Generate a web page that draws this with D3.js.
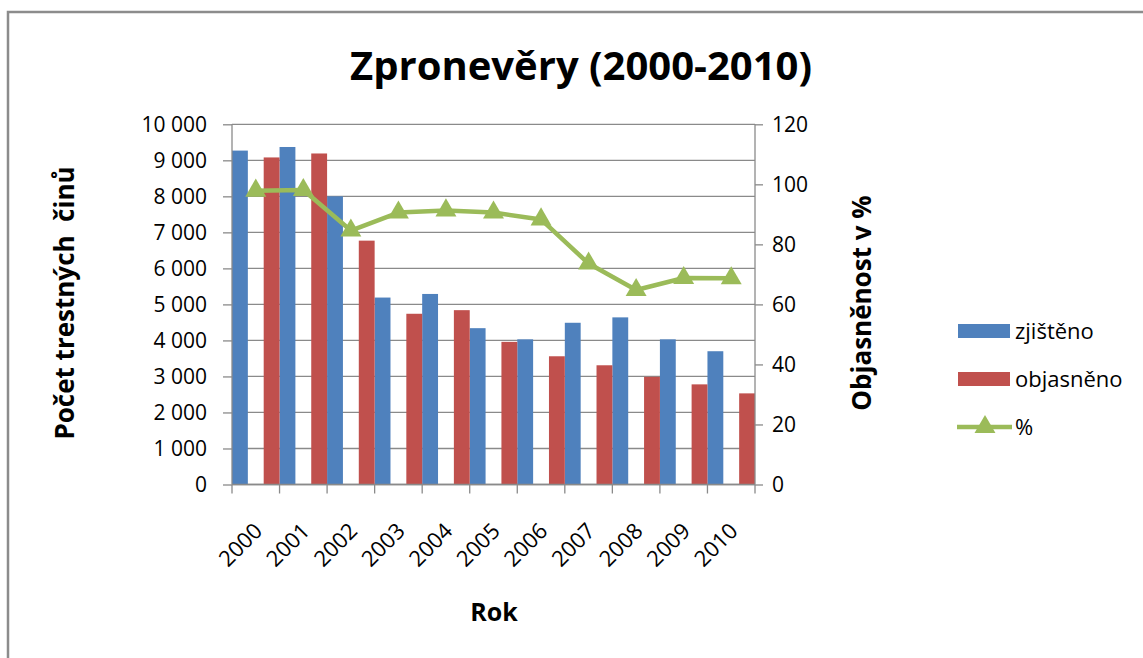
<!DOCTYPE html>
<html><head><meta charset="utf-8">
<script src="https://cdn.jsdelivr.net/npm/d3@7"></script>
<style>body{margin:0;background:#fff}svg{display:block}text{font-family:"Open Sans",sans-serif}</style>
</head><body>
<svg id="c" width="1143" height="658"></svg>
<script>
const years = ["2000","2001","2002","2003","2004","2005","2006","2007","2008","2009","2010"];
const zjisteno = [9270,9370,8000,5190,5290,4340,4030,4490,4640,4030,3700];
const objasneno = [9080,9190,6770,4740,4840,3960,3560,3310,2990,2780,2530];
const procenta = [97.9,98.1,84.6,90.6,91.3,90.6,88.3,73.6,64.8,68.8,68.7];
const leftTicks = [0,1000,2000,3000,4000,5000,6000,7000,8000,9000,10000];
const rightTicks = [0,20,40,60,80,100,120];
const seriesNames = ["zjištěno","objasněno","%"];
const colors = {blue:"#4F81BD", red:"#C0504D", green:"#9BBB59"};

const svg = d3.select("#c");
const L=232, R=755, T=124.3, B=484.5;
// frame
svg.append("path").attr("d","M8,1143 V12 H1143").attr("fill","none").attr("stroke","#8c8c8c").attr("stroke-width",2.5);

const x = d3.scaleBand().domain(years).range([L,R]).padding(0);
const slot = d3.scaleBand().domain(["z","gap","o"]).range([0,x.bandwidth()]).padding(0);
const yL = d3.scaleLinear().domain([0,10000]).range([B,T]);
const yR = d3.scaleLinear().domain([0,120]).range([B,T]);
const fmt = v => d3.format(",")(v).replace(/,/g," ");

// gridlines
svg.append("g").selectAll("line").data(leftTicks).join("line")
  .attr("x1",L).attr("x2",R).attr("y1",d=>yL(d)).attr("y2",d=>yL(d))
  .attr("stroke","#8a8a8a").attr("stroke-width",1.3);

// bars
svg.append("g").selectAll("rect").data(years).join("rect")
  .attr("x",d=>x(d)+slot("z")).attr("width",slot.bandwidth())
  .attr("y",(d,i)=>yL(zjisteno[i])).attr("height",(d,i)=>B-yL(zjisteno[i]))
  .attr("fill",colors.blue);
svg.append("g").selectAll("rect").data(years).join("rect")
  .attr("x",d=>x(d)+slot("o")).attr("width",slot.bandwidth())
  .attr("y",(d,i)=>yL(objasneno[i])).attr("height",(d,i)=>B-yL(objasneno[i]))
  .attr("fill",colors.red);

// axes
const axL = svg.append("g").attr("transform",`translate(${L},0)`)
  .call(d3.axisLeft(yL).tickValues(leftTicks).tickFormat(fmt).tickSizeOuter(0).tickSize(9).tickPadding(16));
const axR = svg.append("g").attr("transform",`translate(${R},0)`)
  .call(d3.axisRight(yR).tickValues(rightTicks).tickSizeOuter(0).tickSize(8).tickPadding(9));
const xTicks = d3.range(years.length+1).map(i=>L+i*x.step());
svg.append("g").selectAll("line").data(xTicks).join("line")
  .attr("x1",d=>d).attr("x2",d=>d).attr("y1",B).attr("y2",B+9).attr("stroke","#8a8a8a").attr("stroke-width",1.3);
svg.append("line").attr("x1",L).attr("x2",R).attr("y1",B).attr("y2",B).attr("stroke","#8a8a8a").attr("stroke-width",1.3);
[axL,axR].forEach(a=>{
  a.selectAll("path,line").attr("stroke","#8a8a8a").attr("stroke-width",1.3);
  a.selectAll("text").attr("font-size",21).attr("fill","#000");
});
axL.select(".domain").attr("d",`M0,${T}V${B}`);
axR.select(".domain").attr("d",`M0,${T}V${B}`);

// x labels
svg.append("g").selectAll("text").data(years).join("text")
  .attr("transform",d=>`translate(${x(d)+x.bandwidth()/2-3},${B+37}) rotate(-45)`)
  .attr("text-anchor","end").attr("dy","0.7em").attr("font-size",22).text(d=>d);

// line
const line = d3.line().x((d,i)=>x(years[i])+x.bandwidth()/2).y(d=>yR(d));
svg.append("path").datum(procenta).attr("d",line).attr("fill","none")
  .attr("stroke",colors.green).attr("stroke-width",4.5).attr("stroke-linejoin","round");
const tri = d3.symbol().type(d3.symbolTriangle).size(190);
svg.append("g").selectAll("path").data(procenta).join("path")
  .attr("transform",(d,i)=>`translate(${x(years[i])+x.bandwidth()/2},${yR(d)})`)
  .attr("d",tri).attr("fill",colors.green);

// titles
svg.append("text").attr("x",581).attr("y",80).attr("text-anchor","middle")
  .attr("font-size",40).attr("font-weight","bold").text("Zpronevěry (2000-2010)");
svg.append("text").attr("x",494).attr("y",621).attr("text-anchor","middle")
  .attr("font-size",25).attr("font-weight","bold").text("Rok");
svg.append("text").attr("transform","translate(74,303) rotate(-90)").attr("text-anchor","middle")
  .attr("font-size",26).attr("font-weight","bold").style("white-space","pre").text("Počet trestných  činů");
svg.append("text").attr("transform","translate(871,303) rotate(-90)").attr("text-anchor","middle")
  .attr("font-size",26).attr("font-weight","bold").text("Objasněnost v %");

// legend
const lg = svg.append("g");
const ly = [331,379,427];
lg.append("rect").attr("x",958).attr("y",ly[0]-7).attr("width",52).attr("height",14).attr("fill",colors.blue);
lg.append("rect").attr("x",958).attr("y",ly[1]-7).attr("width",52).attr("height",14).attr("fill",colors.red);
lg.append("line").attr("x1",957).attr("x2",1012).attr("y1",ly[2]).attr("y2",ly[2]).attr("stroke",colors.green).attr("stroke-width",4.5);
lg.append("path").attr("transform",`translate(985,${ly[2]})`).attr("d",tri).attr("fill",colors.green);
lg.selectAll("text").data(seriesNames).join("text")
  .attr("x",1015).attr("y",(d,i)=>ly[i]).attr("dy","0.35em").attr("font-size",22).text(d=>d);
</script>
</body></html>
